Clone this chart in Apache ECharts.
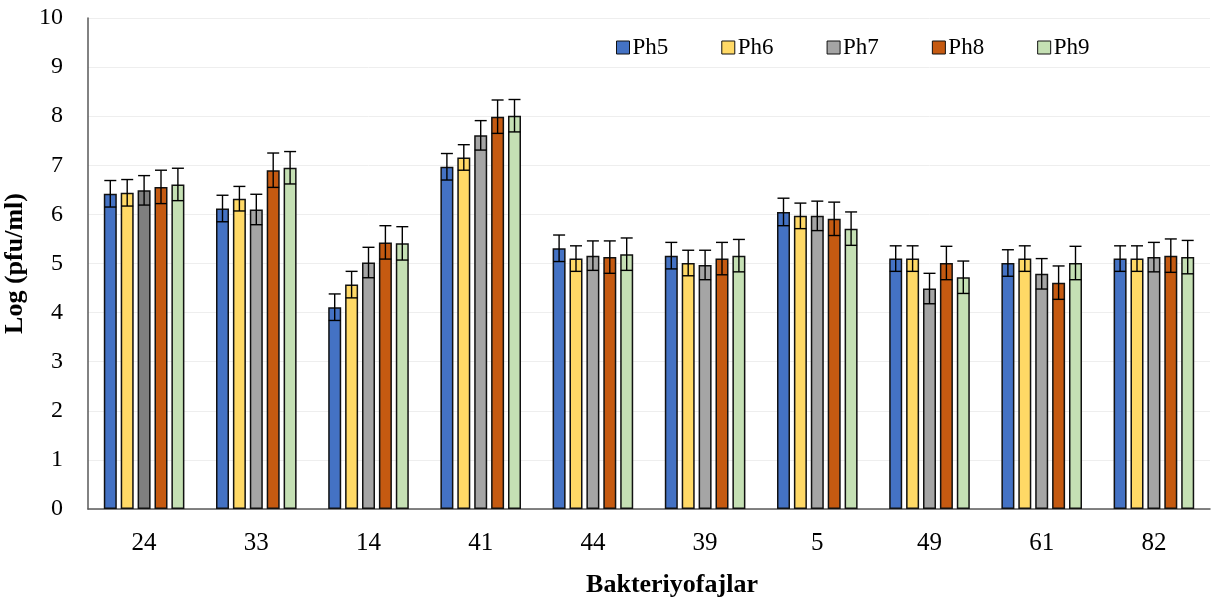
<!DOCTYPE html>
<html>
<head>
<meta charset="utf-8">
<script src="https://cdn.jsdelivr.net/npm/echarts@6/dist/echarts.min.js"></script>
<style>
	html, body { margin: 0; padding: 0; background: #fff; overflow: hidden; }
	#chart { width: 1211px; height: 606px; }
</style>
</head>
<body>
<div id="chart"></div>
<script>
const categories = ['24', '33', '14', '41', '44', '39', '5', '49', '61', '82']
const seriesNames = ['Ph5', 'Ph6', 'Ph7', 'Ph8', 'Ph9']
const colors = ['#4472C4', '#FFD966', '#A5A5A5', '#C55A11', '#C5E0B4']

const ph5 = [6.42, 6.12, 4.11, 6.97, 5.31, 5.16, 6.05, 5.10, 5.01, 5.10]
const ph6 = [6.44, 6.32, 4.57, 7.16, 5.10, 5.01, 5.97, 5.10, 5.10, 5.10]
const ph7 = [6.49, 6.10, 5.02, 7.61, 5.16, 4.97, 5.97, 4.49, 4.79, 5.13]
const ph8 = [6.56, 6.90, 5.43, 7.99, 5.13, 5.10, 5.91, 5.01, 4.61, 5.16]
const ph9 = [6.61, 6.95, 5.41, 8.01, 5.19, 5.16, 5.71, 4.72, 5.01, 5.13]

const err5 = [0.27, 0.27, 0.27, 0.27, 0.27, 0.27, 0.28, 0.26, 0.27, 0.26]
const err6 = [0.27, 0.25, 0.27, 0.26, 0.26, 0.26, 0.26, 0.26, 0.26, 0.26]
const err7 = [0.30, 0.31, 0.31, 0.30, 0.30, 0.30, 0.30, 0.31, 0.31, 0.30]
const err8 = [0.34, 0.35, 0.34, 0.34, 0.33, 0.33, 0.34, 0.34, 0.34, 0.34]
const err9 = [0.33, 0.33, 0.34, 0.33, 0.33, 0.33, 0.34, 0.33, 0.34, 0.34]

const values = [ph5, ph6, ph7, ph8, ph9]
const errors = [err5, err6, err7, err8, err9]

const barWidth = 13
const barGapRatio = 0.3
const font = '"Liberation Serif", "Times New Roman", serif'

const chart = echarts.init(document.getElementById('chart'))

const barSeries = seriesNames.map((name, i) => ({
	name: name,
	type: 'bar',
	barWidth: barWidth,
	barGap: barGapRatio * 100 + '%',
	data: values[i].map((v, j) => {
		// first Ph7 bar is a darker grey in the original
		if (i === 2 && j === 0) return { value: v, itemStyle: { color: '#7F7F7F' } }
		return v
	}),
	itemStyle: {
		color: colors[i],
		borderColor: '#111',
		borderWidth: 1.5,
	},
}))

const errSeries = seriesNames.map((name, i) => ({
	name: name + '_err',
	type: 'custom',
	z: 5,
	data: values[i].map((v, j) => [j, v - errors[i][j], v + errors[i][j]]),
	renderItem: function (params, api) {
		const offset = (i - 2) * barWidth * (1 + barGapRatio)
		const lo = api.coord([api.value(0), api.value(1)])
		const hi = api.coord([api.value(0), api.value(2)])
		const x = lo[0] + offset
		const cap = 6
		const style = { stroke: '#000', lineWidth: 1.4 }
		return {
			type: 'group',
			children: [
				{ type: 'line', shape: { x1: x, y1: lo[1], x2: x, y2: hi[1] }, style: style },
				{ type: 'line', shape: { x1: x - cap, y1: hi[1], x2: x + cap, y2: hi[1] }, style: style },
				{ type: 'line', shape: { x1: x - cap, y1: lo[1], x2: x + cap, y2: lo[1] }, style: style },
			],
		}
	},
}))

const option = {
	animation: false,
	color: colors,
	textStyle: { fontFamily: font },
	grid: { left: 88, right: 1, top: 18, bottom: 97, outerBoundsMode: 'none', containLabel: false },
	legend: {
		data: seriesNames,
		top: 31,
		left: 611,
		itemWidth: 13,
		itemHeight: 13,
		itemGap: 53,
		icon: 'rect',
		itemStyle: { borderColor: '#111', borderWidth: 1 },
		textStyle: { fontFamily: font, fontSize: 23, color: '#000', padding: [0, 0, 0, -2] },
	},
	xAxis: {
		type: 'category',
		data: categories,
		name: 'Bakteriyofajlar',
		nameLocation: 'middle',
		nameGap: 63,
		nameTextStyle: { fontFamily: font, fontSize: 26, fontWeight: 'bold', color: '#000', padding: [0, 0, 0, 46] },
		axisLine: { lineStyle: { color: '#595959', width: 1.5 } },
		axisTick: { show: false },
		axisLabel: { fontFamily: font, fontSize: 25, color: '#000', margin: 22 },
	},
	yAxis: {
		type: 'value',
		min: 0,
		max: 10,
		interval: 1,
		name: 'Log (pfu/ml)',
		nameLocation: 'middle',
		nameGap: 48,
		nameTextStyle: { fontFamily: font, fontSize: 26, fontWeight: 'bold', color: '#000' },
		axisLine: { show: true, lineStyle: { color: '#595959', width: 1.5 } },
		axisTick: { show: false },
		axisLabel: { fontFamily: font, fontSize: 24, color: '#000', margin: 25 },
		splitLine: { lineStyle: { color: '#EEEEEE', width: 1 } },
	},
	series: barSeries.concat(errSeries),
}

chart.setOption(option)
</script>
</body>
</html>
